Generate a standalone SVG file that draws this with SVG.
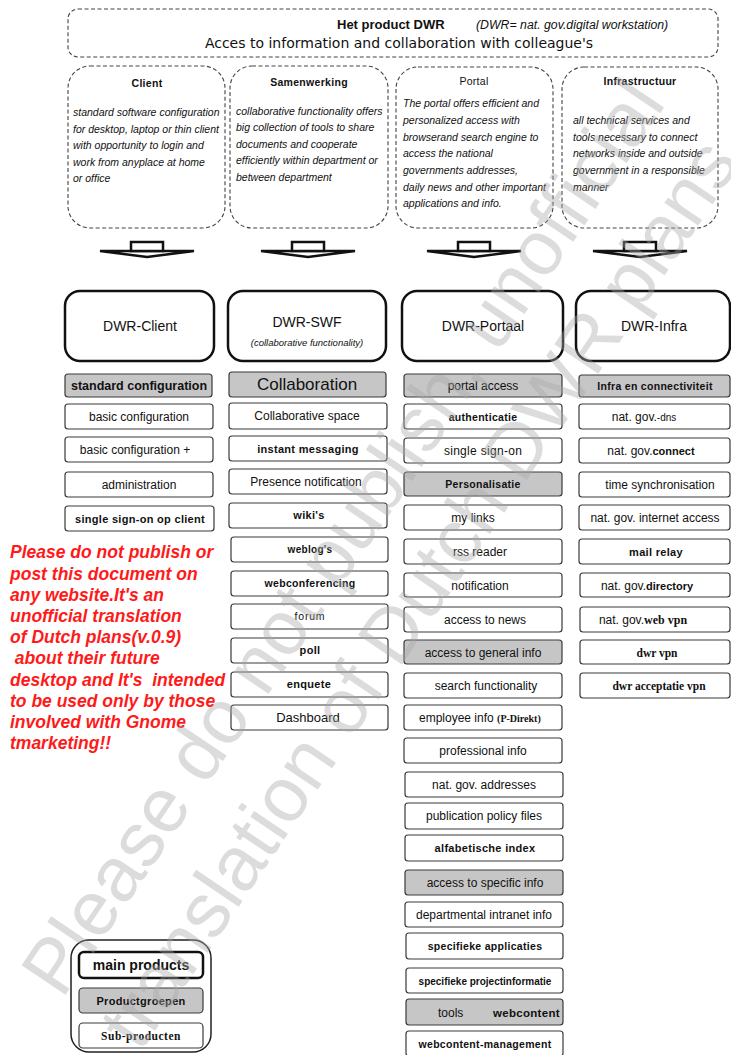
<svg xmlns="http://www.w3.org/2000/svg" width="731" height="1055" viewBox="0 0 731 1055">
<style>
text{font-family:"Liberation Sans",Arial,sans-serif;fill:#111}
.dash{fill:#fff;stroke:#444;stroke-width:1.1;stroke-dasharray:4 2.5}
.main{fill:#fff;stroke:#111;stroke-width:2.5}
.sb{fill:#fff;stroke:#3a3a3a;stroke-width:1.2}
.gb{fill:#c6c6c6;stroke:#3a3a3a;stroke-width:1.2}
.c{text-anchor:middle;font-size:12px}
.b{font-weight:bold;font-size:11px;letter-spacing:0.3px}
.ttl{font-weight:bold;font-size:10.5px;text-anchor:middle;letter-spacing:0.3px}
.it{font-style:italic;font-size:10.5px}
.big{text-anchor:middle;font-size:14px}
.red{fill:#ff1a1a;font-weight:bold;font-style:italic;font-size:17.5px}
.arr{fill:#fff;stroke:#111;stroke-width:2.5;stroke-linejoin:miter}
.wm{font-size:77px;fill:#a8a8a8;fill-opacity:0.4}
</style>

<g id="header">
<rect class="dash" x="68" y="9" width="650" height="48" rx="10"/>
<text x="337" y="29" style="font-weight:bold;font-size:13px">Het product DWR</text>
<text x="476" y="29" style="font-style:italic;font-size:12.3px">(DWR= nat. gov.digital workstation)</text>
<text x="399" y="48" style="font-family:'DejaVu Sans',sans-serif;font-size:14px;text-anchor:middle">Acces to information and collaboration with colleague's</text>
</g>

<g id="desc-client">
<rect class="dash" x="68" y="66" width="157" height="162" rx="22"/>
<text class="ttl" x="147" y="87">Client</text>
<text class="it" x="73" y="116">standard software configuration</text>
<text class="it" x="73" y="133">for desktop, laptop or thin client</text>
<text class="it" x="73" y="149">with opportunity to login and</text>
<text class="it" x="73" y="166">work from anyplace at home</text>
<text class="it" x="73" y="182">or office</text>
</g>
<g id="desc-samenwerking">
<rect class="dash" x="230" y="66" width="158" height="162" rx="22"/>
<text class="ttl" x="309" y="86">Samenwerking</text>
<text class="it" x="236" y="115">collaborative functionality offers</text>
<text class="it" x="236" y="131">big collection of tools to share</text>
<text class="it" x="236" y="148">documents and cooperate</text>
<text class="it" x="236" y="164">efficiently within department or</text>
<text class="it" x="236" y="181">between department</text>
</g>
<g id="desc-portal">
<rect class="dash" x="396" y="67" width="157" height="161" rx="22"/>
<text class="ttl" x="474" y="85" style="font-weight:normal">Portal</text>
<text class="it" x="403" y="107">The portal offers efficient and</text>
<text class="it" x="403" y="124">personalized access with</text>
<text class="it" x="403" y="141">browserand search engine to</text>
<text class="it" x="403" y="157">access the national</text>
<text class="it" x="403" y="174">governments addresses,</text>
<text class="it" x="403" y="191">daily news and other important</text>
<text class="it" x="403" y="207">applications and info.</text>
</g>
<g id="desc-infra">
<rect class="dash" x="562" y="67" width="156" height="161" rx="22"/>
<text class="ttl" x="640" y="85">Infrastructuur</text>
<text class="it" x="573" y="124">all technical services and</text>
<text class="it" x="573" y="141">tools necessary to connect</text>
<text class="it" x="573" y="157">networks inside and outside</text>
<text class="it" x="573" y="174">government in a responsible</text>
<text class="it" x="573" y="191">manner</text>
</g>

<g id="connectors">
<g transform="translate(147,0)"><polygon class="arr" points="-47,251 47,251 0,257"/><rect class="arr" x="-16" y="242" width="32" height="9"/></g>
<g transform="translate(308,0)"><polygon class="arr" points="-47,251 47,251 0,257"/><rect class="arr" x="-16" y="242" width="32" height="9"/></g>
<g transform="translate(474,0)"><polygon class="arr" points="-47,251 47,251 0,257"/><rect class="arr" x="-16" y="242" width="32" height="9"/></g>
<g transform="translate(640,0)"><polygon class="arr" points="-47,251 47,251 0,257"/><rect class="arr" x="-16" y="242" width="32" height="9"/></g>
</g>

<g id="dwr-client">
<rect class="main" x="65" y="291" width="149" height="70" rx="15"/>
<text class="big" x="140" y="331">DWR-Client</text>
</g>
<g id="dwr-swf">
<rect class="main" x="228" y="291" width="158" height="70" rx="15"/>
<text class="big" x="307" y="327">DWR-SWF</text>
<text x="307" y="346" style="font-style:italic;font-size:9.5px;text-anchor:middle">(collaborative functionality)</text>
</g>
<g id="dwr-portaal">
<rect class="main" x="402" y="291" width="161" height="70" rx="15"/>
<text class="big" x="483" y="331">DWR-Portaal</text>
</g>
<g id="dwr-infra">
<rect class="main" x="576" y="291" width="154" height="70" rx="15"/>
<text class="big" x="654" y="331">DWR-Infra</text>
</g>

<g id="col-client">
<rect class="gb" x="65" y="374" width="147" height="23" rx="3"/><text class="c" x="139" y="390" style="font-weight:bold;font-size:12.5px">standard configuration</text>
<rect class="sb" x="65" y="404" width="148" height="25" rx="3"/><text class="c" x="139" y="421">basic configuration</text>
<rect class="sb" x="65" y="437" width="148" height="25" rx="3"/><text class="c" x="135" y="454">basic configuration +</text>
<rect class="sb" x="65" y="472" width="148" height="25" rx="3"/><text class="c" x="139" y="489">administration</text>
<rect class="sb" x="65" y="506" width="149" height="25" rx="3"/><text class="c b" x="140" y="523">single sign-on op client</text>
</g>

<g id="col-swf">
<rect class="gb" x="229" y="372" width="157" height="25" rx="3"/><text class="c" x="307" y="390" style="font-size:17px">Collaboration</text>
<rect class="sb" x="229" y="403" width="158" height="26" rx="3"/><text class="c" x="307" y="420">Collaborative space</text>
<rect class="sb" x="229" y="436" width="158" height="25" rx="3"/><text class="c b" x="308" y="453">instant messaging</text>
<rect class="sb" x="229" y="469" width="158" height="25" rx="3"/><text class="c" x="306" y="486">Presence notification</text>
<rect class="sb" x="229" y="503" width="158" height="25" rx="3"/><text class="c b" x="309" y="519">wiki's</text>
<rect class="sb" x="231" y="537" width="157" height="25" rx="3"/><text class="c b" x="310" y="553" style="font-size:10px">weblog's</text>
<rect class="sb" x="231" y="571" width="157" height="25" rx="3"/><text class="c b" x="310" y="587" style="font-size:10.5px">webconferencing</text>
<rect class="sb" x="231" y="604" width="157" height="25" rx="3"/><text class="c" x="310" y="620" style="font-size:10.5px;letter-spacing:0.8px">forum</text>
<rect class="sb" x="231" y="638" width="157" height="25" rx="3"/><text class="c b" x="310" y="654">poll</text>
<rect class="sb" x="231" y="672" width="157" height="25" rx="3"/><text class="c b" x="309" y="688">enquete</text>
<rect class="sb" x="231" y="705" width="157" height="25" rx="3"/><text class="c" x="308" y="722" style="font-size:13px">Dashboard</text>
</g>

<g id="col-portaal">
<rect class="gb" x="404" y="374" width="158" height="23" rx="3"/><text class="c" x="483" y="390">portal access</text>
<rect class="sb" x="404" y="404" width="158" height="25" rx="3"/><text class="c b" x="483" y="421" style="font-size:10.5px">authenticatie</text>
<rect class="sb" x="404" y="438" width="158" height="25" rx="3"/><text class="c b" x="483" y="455" style="font-weight:normal;font-size:12px">single sign-on</text>
<rect class="gb" x="404" y="472" width="158" height="24" rx="3"/><text class="c b" x="483" y="488" style="font-size:10.5px">Personalisatie</text>
<rect class="sb" x="404" y="505" width="158" height="25" rx="3"/><text class="c" x="473" y="522">my links</text>
<rect class="sb" x="404" y="539" width="158" height="25" rx="3"/><text class="c" x="480" y="556">rss reader</text>
<rect class="sb" x="404" y="573" width="158" height="24" rx="3"/><text class="c" x="480" y="590">notification</text>
<rect class="sb" x="404" y="607" width="158" height="25" rx="3"/><text class="c" x="485" y="624">access to news</text>
<rect class="gb" x="404" y="640" width="158" height="24" rx="3"/><text class="c" x="483" y="657">access to general info</text>
<rect class="sb" x="404" y="673" width="158" height="25" rx="3"/><text class="c" x="486" y="690">search functionality</text>
<rect class="sb" x="404" y="705" width="158" height="25" rx="3"/><text x="419" y="722" style="font-size:12px">employee info <tspan style="font-family:'Liberation Serif',serif;font-weight:bold;font-size:10px">(P-Direkt)</tspan></text>
<rect class="sb" x="404" y="738" width="158" height="25" rx="3"/><text class="c" x="483" y="755">professional info</text>
<rect class="sb" x="405" y="772" width="158" height="25" rx="3"/><text class="c" x="484" y="789">nat. gov. addresses</text>
<rect class="sb" x="405" y="803" width="158" height="26" rx="3"/><text class="c" x="484" y="820">publication policy files</text>
<rect class="sb" x="405" y="835" width="158" height="26" rx="3"/><text class="c b" x="485" y="852">alfabetische index</text>
<rect class="gb" x="405" y="870" width="158" height="25" rx="3"/><text class="c" x="485" y="887">access to specific info</text>
<rect class="sb" x="405" y="902" width="158" height="25" rx="3"/><text class="c" x="484" y="919">departmental intranet info</text>
<rect class="sb" x="406" y="933" width="157" height="26" rx="3"/><text class="c b" x="485" y="950" style="font-size:10.5px">specifieke applicaties</text>
<rect class="sb" x="406" y="968" width="157" height="25" rx="3"/><text class="c b" x="485" y="985" style="font-size:10px;letter-spacing:0">specifieke projectinformatie</text>
<rect class="gb" x="406" y="999" width="157" height="26" rx="3"/><text x="438" y="1017" style="font-size:12px">tools</text><text class="b" x="493" y="1017" style="font-size:11.5px">webcontent</text>
<rect class="sb" x="406" y="1031" width="157" height="25" rx="3"/><text class="c b" x="485" y="1048" style="font-size:10.5px">webcontent-management</text>
</g>

<g id="col-infra">
<rect class="gb" x="579" y="375" width="151" height="22" rx="3"/><text class="c b" x="655" y="390" style="font-size:10.5px">Infra en connectiviteit</text>
<rect class="sb" x="579" y="404" width="151" height="25" rx="3"/><text class="c" x="644" y="421">nat. gov.<tspan style="font-size:10px">-dns</tspan></text>
<rect class="sb" x="579" y="438" width="151" height="25" rx="3"/><text class="c" x="651" y="455">nat. gov.<tspan style="font-weight:bold;font-size:11px">connect</tspan></text>
<rect class="sb" x="579" y="472" width="151" height="25" rx="3"/><text class="c" x="660" y="489">time synchronisation</text>
<rect class="sb" x="579" y="505" width="151" height="25" rx="3"/><text class="c" x="655" y="522">nat. gov. internet access</text>
<rect class="sb" x="579" y="539" width="151" height="25" rx="3"/><text class="c b" x="656" y="556">mail relay</text>
<rect class="sb" x="580" y="573" width="150" height="24" rx="3"/><text class="c" x="647" y="590">nat. gov.<tspan style="font-weight:bold;font-size:11px">directory</tspan></text>
<rect class="sb" x="580" y="607" width="150" height="25" rx="3"/><text class="c" x="643" y="624">nat. gov.<tspan style="font-family:'Liberation Serif',serif;font-weight:bold;font-size:12px">web vpn</tspan></text>
<rect class="sb" x="580" y="640" width="150" height="24" rx="3"/><text class="c" x="657" y="657" style="font-family:'Liberation Serif',serif;font-weight:bold;font-size:11.5px">dwr vpn</text>
<rect class="sb" x="580" y="673" width="150" height="25" rx="3"/><text class="c" x="659" y="690" style="font-family:'Liberation Serif',serif;font-weight:bold;font-size:11.5px">dwr acceptatie vpn</text>
</g>

<g id="warning" class="red">
<text class="red" x="10" y="558">Please do not publish or</text>
<text class="red" x="10" y="580">post this document on</text>
<text class="red" x="10" y="601">any website.It's an</text>
<text class="red" x="10" y="622">unofficial translation</text>
<text class="red" x="10" y="643">of Dutch plans(v.0.9)</text>
<text class="red" x="10" y="664" xml:space="preserve"> about their future</text>
<text class="red" x="10" y="686" xml:space="preserve">desktop and It's  intended</text>
<text class="red" x="10" y="707">to be used only by those</text>
<text class="red" x="10" y="728">involved with Gnome</text>
<text class="red" x="10" y="749">tmarketing!!</text>
</g>

<g id="legend">
<rect x="71" y="940" width="140" height="112" rx="18" fill="#fff" stroke="#222" stroke-width="1.5"/>
<rect x="79" y="952" width="124" height="26" rx="5" fill="#fff" stroke="#111" stroke-width="2.5"/>
<text x="141" y="970" style="font-weight:bold;font-size:14px;text-anchor:middle">main products</text>
<rect class="gb" x="79" y="988" width="124" height="25" rx="4"/>
<text class="c b" x="141" y="1005" style="font-size:11px">Productgroepen</text>
<rect class="sb" x="79" y="1023" width="124" height="25" rx="4"/>
<text class="c" x="141" y="1040" style="font-family:'Liberation Serif',serif;font-weight:bold;font-size:11.5px;letter-spacing:0.5px">Sub-producten</text>
</g>

<g id="watermark">
<text class="wm" transform="translate(62,1000) rotate(-56)">Please do not publish, unofficial</text>
<text class="wm" transform="translate(140,1053) rotate(-56)">translation of Dutch DWR plans</text>
</g>
</svg>
